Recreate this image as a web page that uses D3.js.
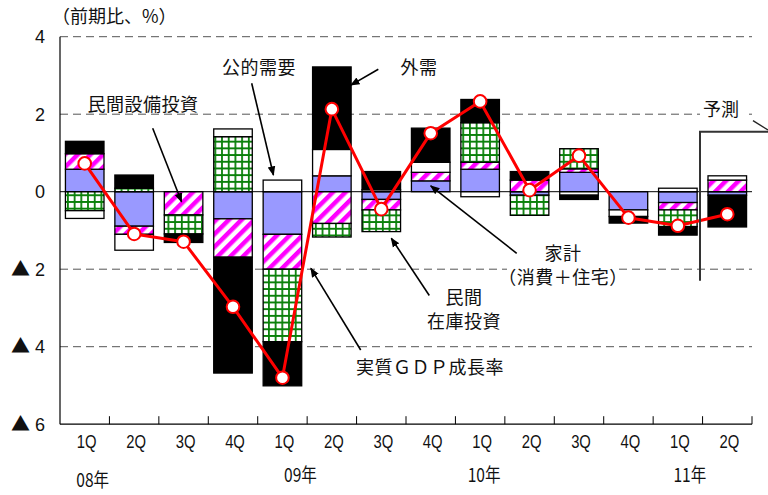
<!DOCTYPE html>
<html>
<head>
<meta charset="utf-8">
<script src="https://cdn.jsdelivr.net/npm/d3@7"></script>
<style>
  body { margin: 0; background: #fff; }
  svg { display: block; }
  text { font-family: "Noto Sans CJK JP", "Noto Sans", sans-serif; fill: #111; }
</style>
</head>
<body>
<svg id="chart" width="768" height="495"></svg>
<script>
// Quarterly real GDP growth (q/q, %) and contributions by demand component
const quarters = ["1Q","2Q","3Q","4Q","1Q","2Q","3Q","4Q","1Q","2Q","3Q","4Q","1Q","2Q"];
const yearLabels = ["08年", "09年", "10年", "11年"];
const yearStartIndex = [0, 4, 8, 12];

const household      = [0.58, -0.89, 0.00, -0.70, -1.10, 0.41, -0.20, 0.28, 0.58, -0.09, 0.50, -0.47, -0.28, -0.09];
const privateCapex   = [0.40, -0.21, -0.60, -0.99, -0.90, -0.82, -0.27, 0.22, 0.18, 0.30, 0.09, 0.00, -0.19, 0.30];
const inventories    = [-0.49, 0.09, -0.49, 1.42, -1.87, -0.35, -0.56, 0.00, 1.02, -0.52, 0.52, 0.00, -0.43, 0.00];
const publicDemand   = [-0.20, -0.41, 0.00, 0.20, 0.30, 0.68, 0.05, 0.26, -0.13, 0.00, -0.09, -0.17, 0.09, 0.11];
const externalDemand = [0.32, 0.34, -0.22, -2.99, -1.14, 2.13, 0.47, 0.88, 0.60, 0.22, -0.11, -0.17, -0.22, -0.82];
const gdpGrowth      = [0.73, -1.09, -1.29, -2.97, -4.80, 2.13, -0.45, 1.51, 2.33, 0.04, 0.93, -0.67, -0.88, -0.58];

const yTicks = [4, 2, 0, -2, -4, -6];

const svg = d3.select("#chart");
const margin = { left: 60, right: 16, top: 37, bottom: 71 };

const x = d3.scaleBand()
  .domain(d3.range(quarters.length))
  .range([margin.left, 752])
  .paddingInner(0.22)
  .paddingOuter(0.11);

const y = d3.scaleLinear().domain([-6, 4]).range([424.2, 36.7]);

// fill patterns
const defs = svg.append("defs");
const hatch = defs.append("pattern")
  .attr("id", "hatch").attr("patternUnits", "userSpaceOnUse")
  .attr("width", 9).attr("height", 9)
  .attr("patternTransform", "rotate(45)");
hatch.append("rect").attr("width", 9).attr("height", 9).attr("fill", "#fff");
hatch.append("rect").attr("width", 4.5).attr("height", 9).attr("fill", "#ff00ff");

const grid = defs.append("pattern")
  .attr("id", "gridfill").attr("patternUnits", "userSpaceOnUse")
  .attr("width", 6.7).attr("height", 6.7);
grid.append("rect").attr("width", 6.7).attr("height", 6.7).attr("fill", "#fff");
grid.append("path").attr("d", "M0.9,0V6.7M0,0.9H6.7")
  .attr("stroke", "#0a800a").attr("stroke-width", 1.8);

defs.append("marker")
  .attr("id", "arrow").attr("viewBox", "0 0 10 10")
  .attr("refX", 9).attr("refY", 5)
  .attr("markerWidth", 6).attr("markerHeight", 6)
  .attr("markerUnits", "strokeWidth")
  .attr("orient", "auto")
  .append("path").attr("d", "M0,1L10,5L0,9Z").attr("fill", "#000");

// dashed gridlines
svg.append("g").selectAll("line")
  .data(yTicks.filter(d => d !== 0 && d !== -6))
  .join("line")
  .attr("x1", margin.left).attr("x2", 752)
  .attr("y1", d => y(d)).attr("y2", d => y(d))
  .attr("stroke", "#555").attr("stroke-width", 1)
  .attr("stroke-dasharray", "8,5");

// stacked contributions
const keys = ["household", "privateCapex", "inventories", "publicDemand", "externalDemand"];
const fills = {
  household: "#9999ff",
  privateCapex: "url(#hatch)",
  inventories: "url(#gridfill)",
  publicDemand: "#ffffff",
  externalDemand: "#000000"
};
const source = { household, privateCapex, inventories, publicDemand, externalDemand };
const rows = quarters.map((q, i) => {
  const r = { i };
  keys.forEach(k => r[k] = source[k][i]);
  return r;
});
const stacked = d3.stack().keys(keys).offset(d3.stackOffsetDiverging)(rows);

svg.append("g").selectAll("g")
  .data(stacked)
  .join("g")
  .attr("fill", s => fills[s.key])
  .selectAll("rect")
  .data(s => s.filter(d => d[1] !== d[0]))
  .join("rect")
  .attr("x", d => x(d.data.i))
  .attr("width", x.bandwidth())
  .attr("y", d => y(d[1]))
  .attr("height", d => y(d[0]) - y(d[1]))
  .attr("stroke", "#000").attr("stroke-width", 1.3);

// zero line
svg.append("line")
  .attr("x1", margin.left).attr("x2", 752)
  .attr("y1", y(0)).attr("y2", y(0))
  .attr("stroke", "#000").attr("stroke-width", 1);

// axes
const xAxis = svg.append("g").attr("transform", `translate(0,${y(-6)})`);
xAxis.append("line").attr("x1", margin.left).attr("x2", 752)
  .attr("stroke", "#000").attr("stroke-width", 1.2);
xAxis.selectAll(".tk").data(d3.range(1, quarters.length + 1)).join("line")
  .attr("x1", i => margin.left + i * x.step()).attr("x2", i => margin.left + i * x.step())
  .attr("y1", 0).attr("y2", -8)
  .attr("stroke", "#000").attr("stroke-width", 1);

svg.append("line")
  .attr("x1", margin.left).attr("x2", margin.left)
  .attr("y1", y(4)).attr("y2", y(-6))
  .attr("stroke", "#000").attr("stroke-width", 1.2);

// y tick labels (negatives marked with ▲)
const yLab = svg.append("g").selectAll("text").data(yTicks).join("text")
  .attr("x", 45).attr("y", d => y(d) + 6.5)
  .attr("text-anchor", "end")
  .style("font-family", "'Liberation Sans', Arial, sans-serif")
  .style("font-size", "18px");
yLab.each(function(d) {
  const t = d3.select(this);
  if (d < 0) {
    t.append("tspan").style("font-family", "'Noto Sans CJK JP'").style("font-size", "19px").text("▲");
    t.append("tspan").text(" " + Math.abs(d));
  } else {
    t.text(d);
  }
});

// quarter labels
svg.append("g").selectAll("text").data(quarters).join("text")
  .attr("transform", (q, i) => `translate(${x(i) + x.bandwidth() / 2 + 2},${y(-6) + 24}) scale(0.78,1)`)
  .attr("text-anchor", "middle")
  .style("font-family", "'Liberation Sans', Arial, sans-serif")
  .style("font-size", "19px")
  .text(q => q);

// year labels
const yearShift = [8, 18, 4, 12];
const yearDrop = [63, 58, 58, 58];
svg.append("g").selectAll("text").data(yearLabels).join("text")
  .attr("transform", (t, k) => `translate(${x(yearStartIndex[k]) + x.bandwidth() / 2 + yearShift[k]},${y(-6) + yearDrop[k]}) scale(0.82,1)`)
  .attr("text-anchor", "middle")
  .style("font-size", "19px")
  .text(t => t);

// GDP growth line
const cx = i => x(i) + x.bandwidth() / 2;
svg.append("path")
  .datum(gdpGrowth)
  .attr("fill", "none").attr("stroke", "#ff0000").attr("stroke-width", 3)
  .attr("stroke-linejoin", "round")
  .attr("d", d3.line().x((v, i) => cx(i)).y(v => y(v)));
svg.append("g").selectAll("circle").data(gdpGrowth).join("circle")
  .attr("cx", (v, i) => cx(i)).attr("cy", v => y(v)).attr("r", 6.3)
  .attr("fill", "#fff").attr("stroke", "#ff0000").attr("stroke-width", 2);

// unit label
svg.append("text").attr("x", 52).attr("y", 23)
  .style("font-size", "18px").text("（前期比、%）");

// forecast bracket
svg.append("path")
  .attr("d", `M700,${y(-2.3)}V131.7H768`)
  .attr("fill", "none").attr("stroke", "#333").attr("stroke-width", 2);
svg.append("line").attr("x1", 753).attr("y1", 120.7).attr("x2", 768).attr("y2", 130)
  .attr("stroke", "#222").attr("stroke-width", 1.4);
svg.append("rect").attr("x", 700).attr("y", 100).attr("width", 44).attr("height", 19).attr("fill", "#fff");
svg.append("text").attr("x", 721).attr("y", 115.5).attr("text-anchor", "middle")
  .style("font-size", "18px").text("予測");

// component callouts
const notes = [
  { lines: ["民間設備投資"], tx: 143, ty: 111, from: [152.7, 128.3], to: { i: 2, v: -0.26, dx: -2 } },
  { lines: ["公的需要"], tx: 259, ty: 74, from: [251.7, 83.3], to: { i: 4, v: 0.43, dx: -9 } },
  { lines: ["外需"], tx: 419, ty: 74, from: [378.3, 69.3], to: { i: 5, v: 2.75, dx: 19 } },
  { lines: ["家計", "（消費＋住宅）"], tx: 563, ty: 260, from: [516.7, 253.3], to: { i: 7, v: 0.15, dx: 0 }, bg: true },
  { lines: ["民間", "在庫投資"], tx: 464, ty: 304, from: [429.3, 295.5], to: { i: 6, v: -1.2, dx: 10 } },
  { lines: ["実質ＧＤＰ成長率"], tx: 430, ty: 374, from: [360.7, 350], to: { i: 5, v: -1.98, dx: -21 } }
];

const noteG = svg.append("g");
notes.forEach(n => {
  noteG.append("line")
    .attr("x1", n.from[0]).attr("y1", n.from[1])
    .attr("x2", cx(n.to.i) + n.to.dx).attr("y2", y(n.to.v))
    .attr("stroke", "#000").attr("stroke-width", 1.6)
    .attr("marker-end", "url(#arrow)");
  n.lines.forEach((ln, k) => {
    const ty = n.ty + k * 24;
    if (n.bg && k === 1) {
      noteG.append("rect").attr("x", n.tx - 56).attr("y", ty - 16).attr("width", 112).attr("height", 20).attr("fill", "#fff");
    }
    noteG.append("text")
      .attr("x", n.tx).attr("y", ty)
      .attr("text-anchor", "middle")
      .style("font-size", "18px")
      .style("letter-spacing", "0.5px")
      .text(ln);
  });
});
</script>
</body>
</html>
